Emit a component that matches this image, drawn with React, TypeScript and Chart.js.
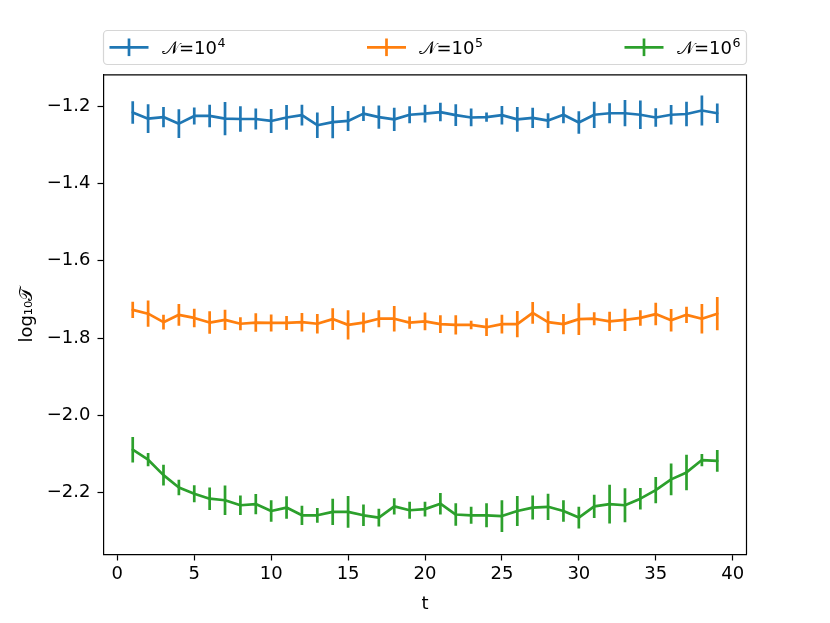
import React, { useEffect, useRef } from "react";
import { Chart, registerables } from "chart.js";

Chart.register(...registerables);

const tValues = [1, 2, 3, 4, 5, 6, 7, 8, 9, 10, 11, 12, 13, 14, 15, 16, 17, 18, 19, 20, 21, 22, 23, 24, 25, 26, 27, 28, 29, 30, 31, 32, 33, 34, 35, 36, 37, 38, 39];

const seriesLabels = ["𝒩=10⁴", "𝒩=10⁵", "𝒩=10⁶"];
const seriesColors = ["#1f77b4", "#ff7f0e", "#2ca02c"];

const n4Values = [-1.216, -1.232, -1.228, -1.245, -1.225, -1.225, -1.232, -1.233, -1.233, -1.238, -1.229, -1.223, -1.249, -1.241, -1.238, -1.219, -1.228, -1.234, -1.222, -1.219, -1.215, -1.223, -1.229, -1.228, -1.223, -1.234, -1.230, -1.237, -1.222, -1.242, -1.222, -1.218, -1.218, -1.222, -1.229, -1.222, -1.220, -1.211, -1.218];
const n4Errors = [0.029, 0.0375, 0.026, 0.037, 0.022, 0.029, 0.043, 0.033, 0.027, 0.031, 0.032, 0.027, 0.033, 0.042, 0.026, 0.019, 0.030, 0.030, 0.022, 0.023, 0.024, 0.028, 0.023, 0.012, 0.024, 0.032, 0.026, 0.019, 0.022, 0.029, 0.034, 0.026, 0.034, 0.037, 0.024, 0.025, 0.032, 0.039, 0.025];

const n5Values = [-1.727, -1.737, -1.759, -1.740, -1.748, -1.760, -1.753, -1.763, -1.760, -1.761, -1.761, -1.759, -1.763, -1.751, -1.766, -1.760, -1.750, -1.750, -1.760, -1.757, -1.764, -1.766, -1.766, -1.772, -1.764, -1.764, -1.735, -1.759, -1.764, -1.751, -1.750, -1.757, -1.753, -1.748, -1.738, -1.754, -1.740, -1.750, -1.737];
const n5Errors = [0.021, 0.034, 0.019, 0.028, 0.024, 0.029, 0.026, 0.017, 0.024, 0.022, 0.018, 0.024, 0.025, 0.028, 0.038, 0.026, 0.022, 0.033, 0.016, 0.023, 0.023, 0.025, 0.011, 0.023, 0.024, 0.034, 0.028, 0.028, 0.026, 0.041, 0.017, 0.025, 0.029, 0.020, 0.029, 0.029, 0.021, 0.038, 0.043];

const n6Values = [-2.089, -2.115, -2.155, -2.187, -2.203, -2.216, -2.220, -2.233, -2.230, -2.248, -2.239, -2.259, -2.259, -2.250, -2.250, -2.259, -2.265, -2.236, -2.246, -2.243, -2.229, -2.257, -2.259, -2.259, -2.261, -2.248, -2.239, -2.237, -2.248, -2.265, -2.236, -2.230, -2.233, -2.216, -2.194, -2.166, -2.148, -2.116, -2.118];
const n6Errors = [0.033, 0.017, 0.027, 0.020, 0.022, 0.029, 0.038, 0.025, 0.026, 0.028, 0.029, 0.025, 0.019, 0.034, 0.041, 0.028, 0.023, 0.021, 0.022, 0.019, 0.028, 0.029, 0.022, 0.031, 0.041, 0.039, 0.031, 0.034, 0.028, 0.028, 0.030, 0.050, 0.044, 0.028, 0.034, 0.041, 0.046, 0.016, 0.028];

const xTickValues = [0, 5, 10, 15, 20, 25, 30, 35, 40];
const yTickValues = [-2.2, -2.0, -1.8, -1.6, -1.4, -1.2];

const xLabel = "t";
const yLabel = "log₁₀𝒯";

const allValues = [n4Values, n5Values, n6Values];
const allErrors = [n4Errors, n5Errors, n6Errors];

const LW = 2.7;
const FONT = "'DejaVu Sans', sans-serif";
const SUP: Record<string, string> = { "⁰": "0", "¹": "1", "²": "2", "³": "3", "⁴": "4", "⁵": "5", "⁶": "6", "⁷": "7", "⁸": "8", "⁹": "9" };

const errorBarPlugin = {
  id: "errorBars",
  afterDatasetsDraw(chart: any) {
    const ctx = chart.ctx;
    const xs = chart.scales.x;
    const ys = chart.scales.y;
    const area = chart.chartArea;
    ctx.save();
    ctx.beginPath();
    ctx.rect(area.left, area.top, area.right - area.left, area.bottom - area.top);
    ctx.clip();
    chart.data.datasets.forEach((ds: any) => {
      ctx.strokeStyle = ds.borderColor;
      ctx.lineWidth = LW;
      ctx.lineCap = "butt";
      ds.data.forEach((p: any, j: number) => {
        const e = ds.errors[j];
        const x = xs.getPixelForValue(p.x);
        ctx.beginPath();
        ctx.moveTo(x, ys.getPixelForValue(p.y - e));
        ctx.lineTo(x, ys.getPixelForValue(p.y + e));
        ctx.stroke();
      });
    });
    ctx.restore();
  },
};

const framePlugin = {
  id: "frameAndLegend",
  afterDraw(chart: any) {
    const ctx = chart.ctx;
    const a = chart.chartArea;
    ctx.save();
    // top and right spines
    ctx.strokeStyle = "#000";
    ctx.lineWidth = 1.2;
    ctx.beginPath();
    ctx.moveTo(a.left, a.top);
    ctx.lineTo(a.right, a.top);
    ctx.lineTo(a.right, a.bottom);
    ctx.stroke();

    // legend box
    const bx = a.left, by = 30.5, bw = a.right - a.left, bh = 34;
    const r = 4;
    ctx.beginPath();
    ctx.moveTo(bx + r, by);
    ctx.lineTo(bx + bw - r, by);
    ctx.arcTo(bx + bw, by, bx + bw, by + r, r);
    ctx.lineTo(bx + bw, by + bh - r);
    ctx.arcTo(bx + bw, by + bh, bx + bw - r, by + bh, r);
    ctx.lineTo(bx + r, by + bh);
    ctx.arcTo(bx, by + bh, bx, by + bh - r, r);
    ctx.lineTo(bx, by + r);
    ctx.arcTo(bx, by, bx + r, by, r);
    ctx.closePath();
    ctx.fillStyle = "rgba(255,255,255,0.8)";
    ctx.fill();
    ctx.strokeStyle = "#d6d6d6";
    ctx.lineWidth = 1.2;
    ctx.stroke();

    const colStep = (bw - 25) / 2.4;
    chart.data.datasets.forEach((ds: any, i: number) => {
      const hx = bx + 6 + i * colStep;
      const hy = 47.3;
      ctx.strokeStyle = ds.borderColor;
      ctx.lineWidth = LW;
      ctx.lineCap = "butt";
      ctx.beginPath();
      ctx.moveTo(hx, hy);
      ctx.lineTo(hx + 39, hy);
      ctx.stroke();
      ctx.beginPath();
      ctx.moveTo(hx + 19.5, hy - 8.8);
      ctx.lineTo(hx + 19.5, hy + 8.8);
      ctx.stroke();
      // label with a real superscript exponent
      const label: string = ds.label;
      let base = label;
      let exp = "";
      while (base.length && SUP[base[base.length - 1]]) {
        exp = SUP[base[base.length - 1]] + exp;
        base = base.slice(0, -1);
      }
      ctx.fillStyle = "#000";
      ctx.textBaseline = "alphabetic";
      ctx.textAlign = "left";
      ctx.font = "18px " + FONT;
      const tx = hx + 52.4;
      ctx.fillText(base, tx, 54.3);
      const w = ctx.measureText(base).width;
      if (exp) {
        ctx.font = "12.6px " + FONT;
        ctx.fillText(exp, tx + w + 0.5, 54.3 - 7.5);
      }
    });
    ctx.restore();
  },
};

export default function App() {
  const ref = useRef<HTMLCanvasElement>(null);
  useEffect(() => {
    if (!ref.current) return;
    const datasets = allValues.map((vals, i) => ({
      label: seriesLabels[i],
      data: vals.map((v, j) => ({ x: tValues[j], y: v })),
      errors: allErrors[i],
      borderColor: seriesColors[i],
      backgroundColor: seriesColors[i],
      borderWidth: LW,
      pointRadius: 0,
      tension: 0,
      borderJoinStyle: "round",
      borderCapStyle: "round",
      fill: false,
    }));
    const chart = new Chart(ref.current, {
      type: "line",
      data: { datasets } as any,
      options: {
        animation: false,
        responsive: false,
        devicePixelRatio: 1,
        layout: { padding: { left: 0, right: 83.5, top: 74.8, bottom: 0 } },
        plugins: { legend: { display: false }, tooltip: { enabled: false } },
        scales: {
          x: {
            type: "linear",
            min: -0.9,
            max: 40.9,
            afterFit: (s: any) => { s.height = 68.5; },
            afterBuildTicks: (s: any) => { s.ticks = xTickValues.map((v) => ({ value: v })); },
            ticks: { color: "#000", font: { family: FONT, size: 18 }, padding: 3, maxRotation: 0, autoSkip: false, callback: (v: any) => String(v) },
            grid: { display: true, drawOnChartArea: false, drawTicks: true, tickLength: 6, tickColor: "#000", tickWidth: 1.2 },
            border: { display: true, color: "#000", width: 1.2 },
            title: { display: true, text: xLabel, color: "#000", font: { family: FONT, size: 18 }, padding: { top: 0, bottom: 8 } },
          },
          y: {
            type: "linear",
            min: -2.3605,
            max: -1.1185,
            afterFit: (s: any) => { s.width = 103.5; },
            afterBuildTicks: (s: any) => { s.ticks = yTickValues.map((v) => ({ value: v })); },
            ticks: { color: "#000", font: { family: FONT, size: 18 }, padding: 7, autoSkip: false, callback: (v: any) => Number(v).toFixed(1).replace("-", "\u2212") },
            grid: { display: true, drawOnChartArea: false, drawTicks: true, tickLength: 6, tickColor: "#000", tickWidth: 1.2 },
            border: { display: true, color: "#000", width: 1.2 },
            title: { display: true, text: yLabel, color: "#000", font: { family: FONT, size: 18 }, padding: { top: 17, bottom: 0 } },
          },
        },
      } as any,
      plugins: [errorBarPlugin, framePlugin],
    });
    return () => chart.destroy();
  }, []);
  return (
    <div style={{ position: "absolute", left: 0, top: 0, width: 830, height: 623, background: "#fff" }}>
      <canvas ref={ref} width={830} height={623} />
    </div>
  );
}
